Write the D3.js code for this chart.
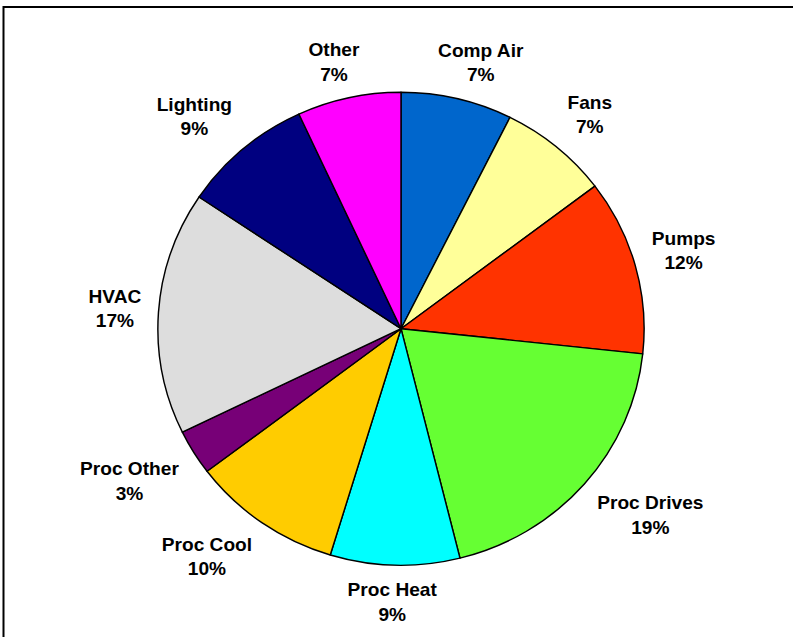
<!DOCTYPE html>
<html>
<head>
<meta charset="utf-8">
<script src="https://cdn.jsdelivr.net/npm/d3@7"></script>
<style>
  body { margin: 0; background: #fff; }
  svg { display: block; }
</style>
</head>
<body>
<div id="vis"></div>
<script>
// chart frame
const FRAME_WIDTH = 793;
const FRAME_HEIGHT = 637;
const STRETCH_X = 1.028;           // the reference is slightly wider than tall
const CENTER = { x: 401 / STRETCH_X, y: 328.7 };
const RADIUS = 236.5;

// data (share of energy use, %)
const categories = ["Comp Air", "Fans", "Pumps", "Proc Drives", "Proc Heat",
                    "Proc Cool", "Proc Other", "HVAC", "Lighting", "Other"];
const shares = [7.4, 7.3, 12.0, 19.4, 8.6, 10.0, 3.1, 16.6, 8.7, 6.9];
const colors = ["#0066CC", "#FFFF99", "#FF3300", "#66FF33", "#00FFFF",
                "#FFCC00", "#770077", "#DDDDDD", "#000080", "#FF00FF"];

const data = categories.map((c, i) => ({ name: c, value: shares[i], color: colors[i] }));
const total = d3.sum(shares);

const svg = d3.select("#vis")
    .append("svg")
    .attr("width", FRAME_WIDTH)
    .attr("height", FRAME_HEIGHT);

// outer chart border (only top and left edges fall inside the picture)
svg.append("rect")
    .attr("x", 3.5)
    .attr("y", 7)
    .attr("width", FRAME_WIDTH + 20)
    .attr("height", FRAME_HEIGHT + 20)
    .attr("fill", "none")
    .attr("stroke", "#000")
    .attr("stroke-width", 2);

const root = svg.append("g")
    .attr("transform", `scale(${STRETCH_X},1)`);

const pie = d3.pie()
    .value(d => d.value)
    .sort(null)
    .startAngle(0)
    .endAngle(2 * Math.PI);

const arc = d3.arc()
    .innerRadius(0)
    .outerRadius(RADIUS);

const arcs = pie(data);

const g = root.append("g")
    .attr("transform", `translate(${CENTER.x},${CENTER.y})`);

g.selectAll("path.slice")
    .data(arcs)
    .enter()
    .append("path")
    .attr("class", "slice")
    .attr("d", arc)
    .attr("fill", d => d.data.color)
    .attr("stroke", "#000")
    .attr("stroke-width", 1.4)
    .attr("stroke-linejoin", "round");

// labels: outside the pie, pushed out along the slice's middle angle
const K = 1.07;
const LINE_GAP = 24.5;
const clamp = t => Math.max(-1, Math.min(1, t * 2));

const labels = g.selectAll("g.label")
    .data(arcs)
    .enter()
    .append("g")
    .attr("class", "label")
    .style("font-family", "'Liberation Sans', Arial, sans-serif")
    .style("font-weight", "bold")
    .style("font-size", "18.6px")
    .attr("fill", "#000")
    .attr("text-anchor", "middle");

labels.append("text")
    .attr("class", "l1")
    .attr("y", -LINE_GAP / 2)
    .attr("dy", "0.36em")
    .text(d => d.data.name);

labels.append("text")
    .attr("class", "l2")
    .attr("y", LINE_GAP / 2)
    .attr("dy", "0.36em")
    .text(d => Math.round(d.data.value / total * 100) + "%");

labels.each(function (d) {
    const box = this.getBBox();
    const mid = (d.startAngle + d.endAngle) / 2;
    const s = Math.sin(mid), c = Math.cos(mid);
    const x = K * RADIUS * s + box.width / 2 * clamp(s);
    const y = -K * RADIUS * c - 20 * clamp(c);
    d3.select(this).attr("transform", `translate(${x},${y})`);
});
</script>
</body>
</html>
